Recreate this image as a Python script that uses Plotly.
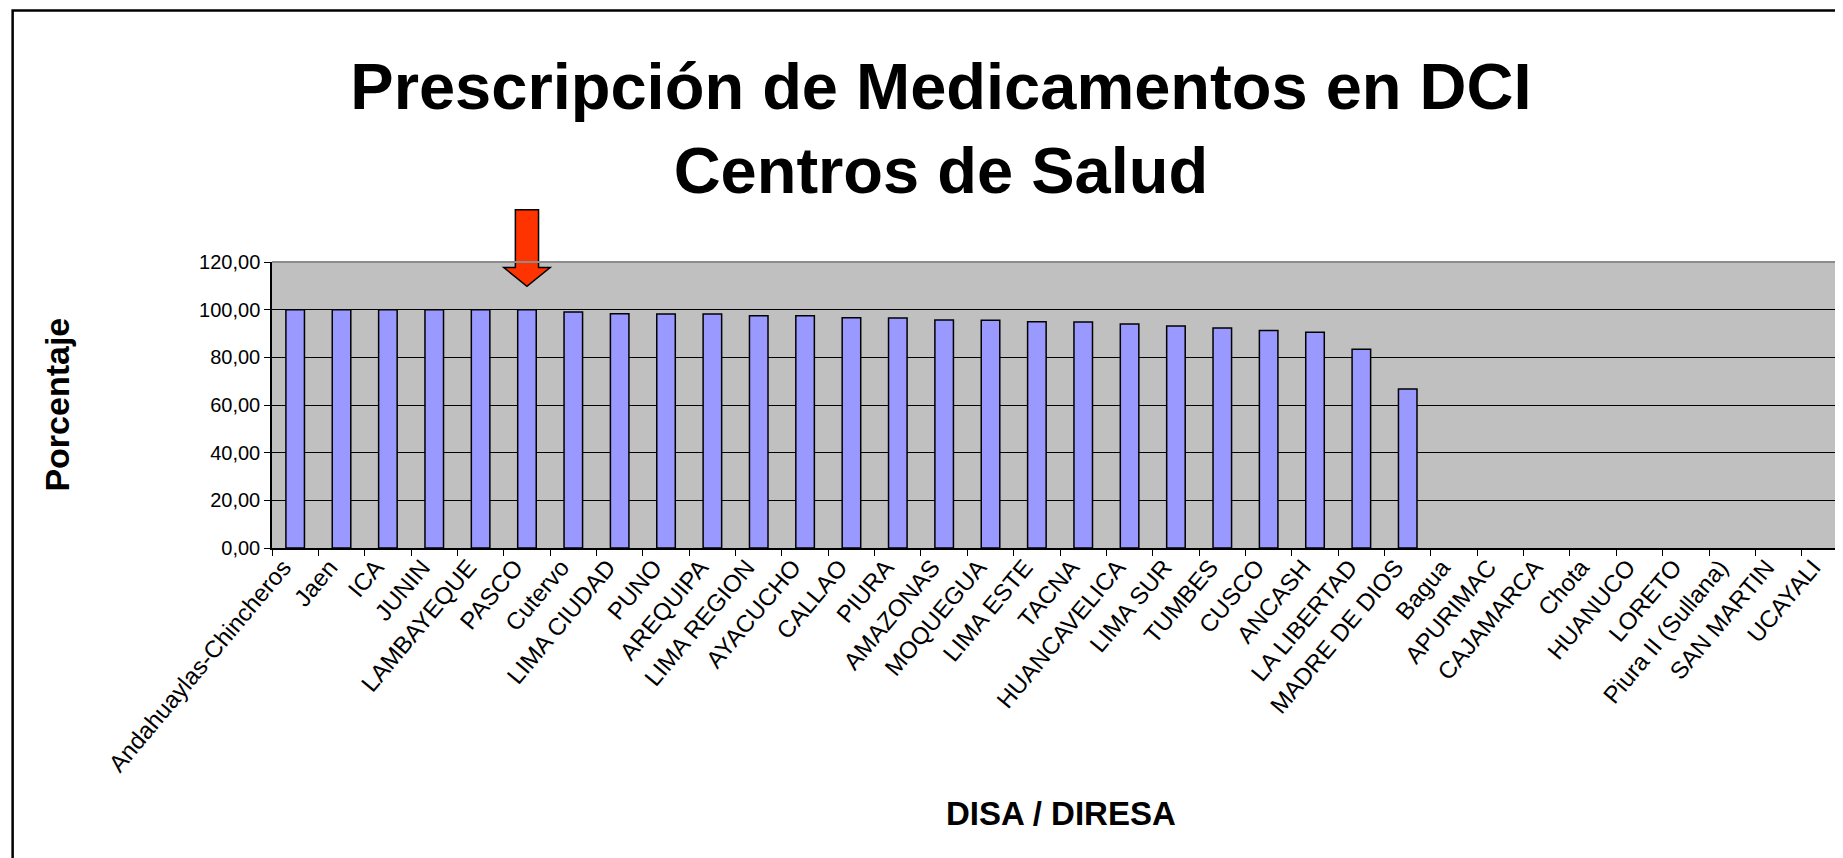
import plotly.graph_objects as go

# DISA / DIRESA regions, in chart order
regions = [
    "Andahuaylas-Chincheros", "Jaen", "ICA", "JUNIN", "LAMBAYEQUE", "PASCO",
    "Cutervo", "LIMA CIUDAD", "PUNO", "AREQUIPA", "LIMA REGION", "AYACUCHO",
    "CALLAO", "PIURA", "AMAZONAS", "MOQUEGUA", "LIMA ESTE", "TACNA",
    "HUANCAVELICA", "LIMA SUR", "TUMBES", "CUSCO", "ANCASH", "LA LIBERTAD",
    "MADRE DE DIOS", "Bagua", "APURIMAC", "CAJAMARCA", "Chota", "HUANUCO",
    "LORETO", "Piura II (Sullana)", "SAN MARTIN", "UCAYALI",
]
# percentage of prescriptions in DCI (no data for the last regions)
porcentaje = [
    100.0, 100.0, 100.0, 100.0, 100.0, 100.0,
    99.0, 98.3, 98.2, 98.2, 97.4, 97.4,
    96.6, 96.5, 95.7, 95.6, 94.9, 94.8,
    94.0, 93.1, 92.3, 91.3, 90.5, 83.4,
    66.7, None, None, None, None, None,
    None, None, None, None,
]
y_ticks = [0, 20, 40, 60, 80, 100, 120]
highlight = "PASCO"

FONT = "Arial, Liberation Sans, sans-serif"
x_range = [-0.5, 33.39]
y_max = 120

fig = go.Figure()
fig.add_trace(
    go.Bar(
        x=regions,
        y=porcentaje,
        width=0.4,
        marker=dict(color="#9999FF", line=dict(color="black", width=1.5)),
        hoverinfo="x+y",
    )
)


def to_px(i):
    # category index -> paper x
    return (i - x_range[0]) / (x_range[1] - x_range[0])


# block arrow pointing at the highlighted region
i = regions.index(highlight)
shaft, head = 0.25, 0.5
y_top, y_base, y_tip = 141.9 / y_max, 117.7 / y_max, 109.8 / y_max
arrow = (
    f"M {to_px(i - shaft)},{y_top} L {to_px(i + shaft)},{y_top} "
    f"L {to_px(i + shaft)},{y_base} L {to_px(i + head)},{y_base} "
    f"L {to_px(i)},{y_tip} L {to_px(i - head)},{y_base} "
    f"L {to_px(i - shaft)},{y_base} Z"
)
fig.add_shape(
    type="path", xref="paper", yref="paper", path=arrow,
    fillcolor="#FF3300", line=dict(color="black", width=1.5), layer="above",
)
# grey top border of the plot area
fig.add_shape(
    type="line", xref="paper", yref="paper", x0=0, x1=1, y0=1, y1=1,
    line=dict(color="#8C8C8C", width=2),
)
# chart frame (left and top edges visible)
fig.add_shape(
    type="path", xref="paper", yref="paper",
    path="M -0.1651,-1.2 L -0.1651,1.8796 L 1.05,1.8796",
    line=dict(color="black", width=2.5),
)

fig.add_annotation(
    text="<b>Porcentaje</b>", xref="paper", yref="paper",
    x=-0.1371, y=0.5, xanchor="center", yanchor="middle",
    textangle=-90, showarrow=False,
    font=dict(family=FONT, size=34, color="black"),
)
fig.add_annotation(
    text="<b>DISA / DIRESA</b>", xref="paper", yref="paper",
    x=0.5024, y=-0.930, xanchor="center", yanchor="middle",
    showarrow=False,
    font=dict(family=FONT, size=33, color="black"),
)

fig.update_layout(
    width=1835,
    height=850,
    margin=dict(l=263.5, r=0, t=254, b=309.5),
    paper_bgcolor="white",
    plot_bgcolor="#C0C0C0",
    separators=",.",
    showlegend=False,
    title=dict(
        text="<b>Prescripción de Medicamentos en DCI<br>Centros de Salud</b>",
        x=0.5084, xanchor="center", xref="container",
        y=0.8813, yanchor="middle", yref="container",
        font=dict(family=FONT, size=65, color="black"),
    ),
    font=dict(family=FONT, color="black"),
)
fig.update_xaxes(
    type="category",
    categoryorder="array",
    categoryarray=regions,
    range=x_range,
    tickangle=-50,
    tickson="boundaries",
    ticks="outside",
    ticklen=6,
    tickcolor="black",
    ticklabelshift=-12,
    ticklabelstandoff=-6,
    showline=True,
    linecolor="black",
    linewidth=1.5,
    showgrid=False,
    tickfont=dict(family=FONT, size=24, color="black"),
)
fig.update_yaxes(
    range=[0, y_max],
    tickvals=y_ticks,
    tickformat=".2f",
    ticks="outside",
    ticklen=6,
    tickcolor="black",
    showline=True,
    linecolor="black",
    linewidth=1.5,
    showgrid=True,
    gridcolor="black",
    gridwidth=1,
    zeroline=False,
    tickfont=dict(family=FONT, size=20, color="black"),
)

fig.write_html("out.html")
